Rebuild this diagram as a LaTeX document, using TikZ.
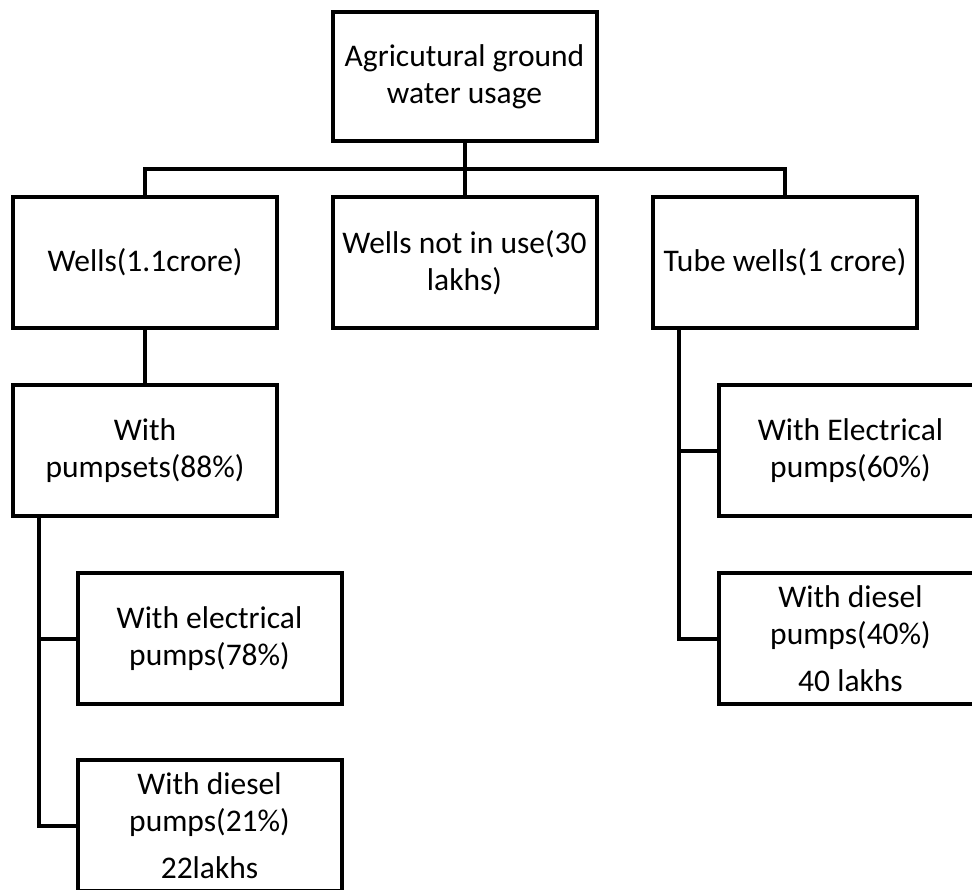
\documentclass[tikz,border=0pt]{standalone}
\usepackage{fontspec}
\setmainfont{Carlito}
\begin{document}
\begin{tikzpicture}[x=1pt,y=-1pt,
  line width=4pt, line join=miter,
  box/.style={draw, fill=white, rectangle, inner sep=0pt, outer sep=0pt,
    minimum width=264pt, minimum height=131pt, align=center,
    font=\fontsize{31.5pt}{37pt}\selectfont},
  link/.style={draw, line width=4pt}]
\useasboundingbox (0,0) rectangle (972,890);
\clip (0,0) rectangle (972,890);

% tree levels
\node[box, minimum height=129pt] (root) at (464.5,76.5) {Agricutural ground\\water usage};
\node[box] (wells) at (145,262.5) {Wells(1.1crore)};
\node[box] (idle)  at (464.5,262.5) {Wells not in use(30\\lakhs)};
\node[box] (tube)  at (785,262.5) {Tube wells(1 crore)};

\node[box] (pumps) at (145,450.5) {With\\pumpsets(88\%)};
\node[box] (elecA) at (209.5,638.5) {With electrical\\pumps(78\%)};
\node[box] (dieA)  at (209.5,825.5) {With diesel\\pumps(21\%)\\[10pt]22lakhs};

\node[box] (elecB) at (850.5,450.5) {With Electrical\\pumps(60\%)};
\node[box] (dieB)  at (850.5,638.5) {With diesel\\pumps(40\%)\\[10pt]40 lakhs};

% connectors
\coordinate (bus) at (0,169);
\coordinate (ls) at (39,0);
\coordinate (rs) at (679,0);

\draw[link] (root.south) -- (idle.north);
\draw[link] (wells.north) |- (bus -| root.south) -| (tube.north);
\draw[link] (wells.south) -- (pumps.north);
\draw[link] (ls |- pumps.south) |- (dieA.west);
\draw[link] (ls |- elecA.west) -- (elecA.west);
\draw[link] (rs |- tube.south) |- (dieB.west);
\draw[link] (rs |- elecB.west) -- (elecB.west);
\end{tikzpicture}
\end{document}
